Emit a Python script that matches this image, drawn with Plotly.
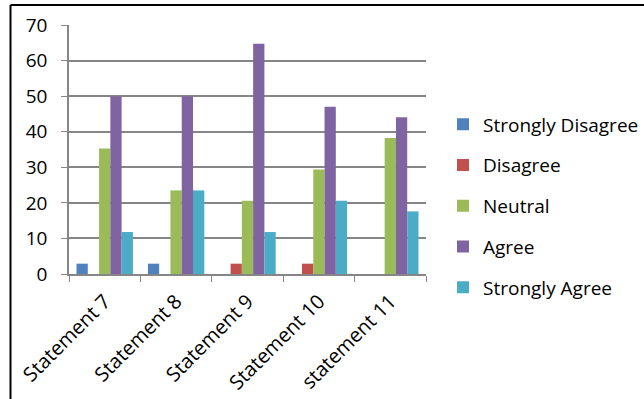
import plotly.graph_objects as go

categories = ["Statement 7", "Statement 8", "Statement 9", "Statement 10", "statement 11"]
strongly_disagree = [2.9, 2.9, 0, 0, 0]
disagree = [0, 0, 2.9, 2.9, 0]
neutral = [35.3, 23.5, 20.6, 29.4, 38.2]
agree = [50, 50, 64.7, 47, 44.1]
strongly_agree = [11.8, 23.5, 11.8, 20.6, 17.6]

series = [
    ("Strongly Disagree", strongly_disagree, "#4F81BD"),
    ("Disagree", disagree, "#C0504D"),
    ("Neutral", neutral, "#9BBB59"),
    ("Agree", agree, "#8064A2"),
    ("Strongly Agree", strongly_agree, "#4BACC6"),
]

W, H = 644, 399
L, R, T, B = 69, 218, 25, 125
pw, ph = W - L - R, H - T - B

fig = go.Figure()
for i, (name, vals, color) in enumerate(series):
    fig.add_trace(go.Bar(
        x=categories, y=vals, name=name,
        marker=dict(color=color, line=dict(width=0)),
        legendgroup=str(i),
    ))

font = "Open Sans, Liberation Sans, sans-serif"
fig.update_layout(
    width=W, height=H,
    margin=dict(l=L, r=R, t=T, b=B, autoexpand=False),
    paper_bgcolor="white", plot_bgcolor="white",
    barmode="group", bargap=0.21, bargroupgap=0,
    font=dict(family=font, size=18, color="#000000"),
    showlegend=True,
    legend=dict(
        x=(443 - L) / pw, xanchor="left",
        y=(274 - 206) / ph, yanchor="middle",
        font=dict(size=19),
        tracegroupgap=13,
        itemwidth=30,
        bgcolor="rgba(0,0,0,0)",
    ),
    xaxis=dict(
        showline=True, linecolor="#868686", linewidth=1.5,
        ticks="outside", tickson="boundaries", ticklen=6, tickcolor="#868686",
        tickangle=-45, tickfont=dict(size=20), ticklabelstandoff=6,
        showgrid=False,
    ),
    yaxis=dict(
        range=[0, 70], dtick=10,
        showline=True, linecolor="#868686", linewidth=1.5,
        ticks="outside", ticklen=6, tickcolor="#868686",
        showgrid=True, gridcolor="#868686", gridwidth=1.5,
        tickfont=dict(size=19), ticklabelstandoff=10,
        zeroline=False,
    ),
    shapes=[
        dict(type="line", xref="paper", yref="paper",
             x0=(10.5 - L) / pw, x1=(W - L) / pw,
             y0=(H - B - 5) / ph, y1=(H - B - 5) / ph,
             line=dict(color="black", width=2)),
        dict(type="line", xref="paper", yref="paper",
             x0=(10.5 - L) / pw, x1=(10.5 - L) / pw,
             y0=(H - B - 5) / ph, y1=-B / ph,
             line=dict(color="black", width=2)),
    ],
)

fig.write_html("out.html")
